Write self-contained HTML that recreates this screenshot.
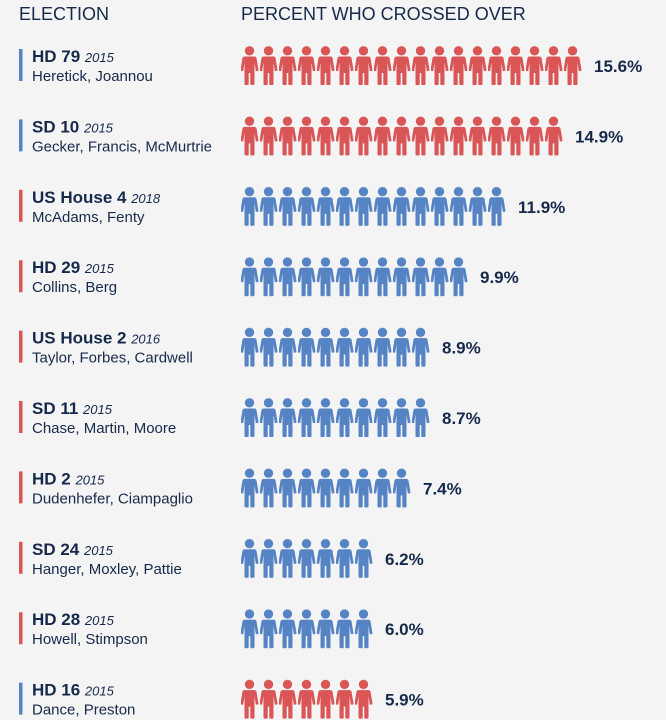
<!DOCTYPE html>
<html><head><meta charset="utf-8"><style>
body{margin:0;background:#f4f4f4;width:666px;height:720px;overflow:hidden;font-family:"Liberation Sans",sans-serif;color:#16294a}
</style></head><body>
<svg width="666" height="720" xmlns="http://www.w3.org/2000/svg" style="position:absolute;left:0;top:0">
<defs>
<g id="p"><circle cx="8.5" cy="4.8" r="4.7"/><path d="M3.5 10.5 H13.5 Q15 10.5 15.5 12 L17.5 24 Q17.5 25 16.5 25 L14.8 25 L13.5 16.5 V38 Q13.5 39 12.5 39 H10.2 Q9.3 39 9.3 38 V27 H7.7 V38 Q7.7 39 6.8 39 H4.5 Q3.5 39 3.5 38 V16.5 L2.2 25 H0.5 Q-0.5 25 -0.5 24 L1.5 12 Q2 10.5 3.5 10.5Z"/></g>
<pattern id="r" width="19" height="40" patternUnits="userSpaceOnUse" x="241" y="0"><use href="#p" fill="#d95556"/></pattern>
<pattern id="b" width="19" height="40" patternUnits="userSpaceOnUse" x="241" y="0"><use href="#p" fill="#5583c4"/></pattern>
</defs>
<g font-size="18" fill="#16294a"><text x="19" y="20">ELECTION</text><text x="241" y="20">PERCENT WHO CROSSED OVER</text></g>
<g id="rows" font-family="Liberation Sans,sans-serif" fill="#16294a"></g>
</svg>
<script>
var d=[["HD 79","Heretick, Joannou",18,"15.6%",1],["SD 10","Gecker, Francis, McMurtrie",17,"14.9%",1],["US House 4","McAdams, Fenty",14,"11.9%",0,"2018"],["HD 29","Collins, Berg",12,"9.9%",0],["US House 2","Taylor, Forbes, Cardwell",10,"8.9%",0,"2016"],["SD 11","Chase, Martin, Moore",10,"8.7%",0],["HD 2","Dudenhefer, Ciampaglio",9,"7.4%",0],["SD 24","Hanger, Moxley, Pattie",7,"6.2%",0],["HD 28","Howell, Stimpson",7,"6.0%",0],["HD 16","Dance, Preston",7,"5.9%",1]];
var s="";d.forEach(function(r,i){var c=65+i*70.4,red=r[4];var yr=r[5]||"2015";
var bar=red?"#5583c4":"#d95556";var top=c-19;
s+='<rect x="19" y="'+(c-16)+'" width="3.5" height="32" fill="'+bar+'"/>';
s+='<text x="32" y="'+(c-3)+'" font-size="17" font-weight="bold">'+r[0]+' <tspan font-size="13" font-style="italic" font-weight="normal">'+yr+'</tspan></text>';
s+='<text x="32" y="'+(c+16)+'" font-size="15">'+r[1]+'</text>';
s+='<g transform="translate(0,'+top+')"><rect x="240" y="0" width="'+(19*r[2]+1)+'" height="40" fill="url(#'+(red?'r':'b')+')"/></g>';
s+='<text x="'+(241+19*r[2]+11)+'" y="'+(c+7)+'" font-size="17" font-weight="bold">'+r[3]+'</text>';});
document.getElementById("rows").innerHTML=s;
</script>
</body></html>
